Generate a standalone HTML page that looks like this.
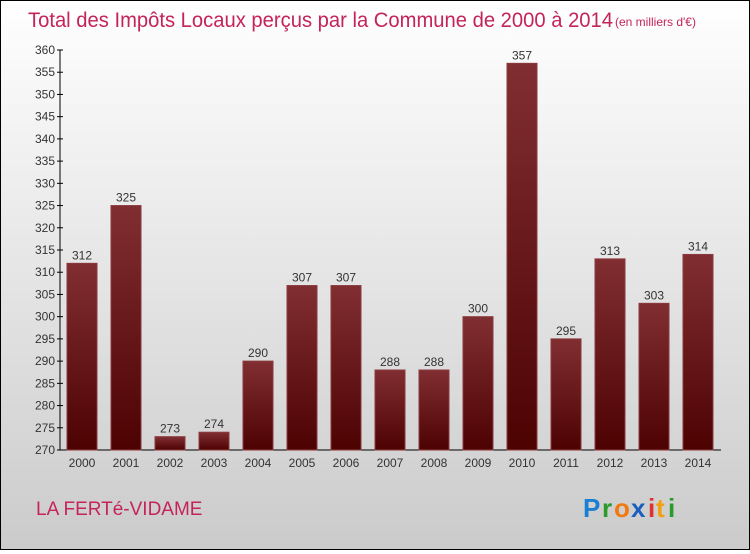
<!DOCTYPE html>
<html><head><meta charset="utf-8"><style>
html,body{margin:0;padding:0}
body{width:750px;height:550px;overflow:hidden;font-family:"Liberation Sans",sans-serif}
#wrap{position:relative;width:748px;height:548px;border:1px solid #000;background:linear-gradient(#ffffff,#cbcbcb)}
</style></head><body>
<div id="wrap">
<svg id="chart" width="748" height="548">
<defs><linearGradient id="bg" x1="0" y1="0" x2="0" y2="1"><stop offset="0" stop-color="#812e32"/><stop offset="1" stop-color="#4d0202"/></linearGradient></defs>
<text x="27" y="26" font-size="21" fill="#c4245a" font-weight="300" textLength="585" lengthAdjust="spacingAndGlyphs">Total des Impôts Locaux perçus par la Commune de 2000 à 2014</text>
<text x="614" y="25" font-size="12" fill="#c4245a">(en milliers d'€)</text>
<text x="35" y="514" font-size="19" fill="#c4245a">LA FERTé-VIDAME</text>
<g font-size="26" font-weight="bold" font-family="'Liberation Sans',sans-serif">
<text x="582" y="516" fill="#1a7fd0">P</text><text x="601" y="516" fill="#2a9a2a">r</text><text x="613" y="516" fill="#f07a10">o</text><text x="630" y="516" fill="#1a5fc0">x</text><text x="647" y="516" fill="#e03030">i</text><text x="655" y="516" fill="#f0a010">t</text><text x="667" y="516" fill="#2a9a2a">i</text>
</g>
<g id="plot"></g>
</svg>
</div>
<script>
const years=["2000","2001","2002","2003","2004","2005","2006","2007","2008","2009","2010","2011","2012","2013","2014"];
const values=[312,325,273,274,290,307,307,288,288,300,357,295,313,303,314];
const yTicks=[270,275,280,285,290,295,300,305,310,315,320,325,330,335,340,345,350,355,360];
const ns="http://www.w3.org/2000/svg";
const g=document.getElementById('plot');
const y=v=>449-(v-270)*400/90;
const x=i=>66+i*44;
function mk(t,a){const e=document.createElementNS(ns,t);for(const k in a)e.setAttribute(k,a[k]);g.appendChild(e);return e;}
let ax=mk('line',{x1:59,y1:49,x2:59,y2:449,stroke:'#000'});


let bx=mk('line',{x1:59,y1:449,x2:720,y2:449,stroke:'#000'});


yTicks.forEach(v=>{
 const tk=mk('line',{x1:56,x2:62,y1:y(v),y2:y(v),stroke:'#000'});
 
 
 const t=mk('text',{x:54,y:y(v)+4,'text-anchor':'end','font-size':12,fill:'#333'});
 t.textContent=v;
 
 
});
years.forEach((yr,i)=>{
 const r=mk('rect',{x:x(i),y:y(values[i]),width:30,height:449-y(values[i]),fill:'url(#bg)',stroke:'#8a3a3e','stroke-width':1});
 
 
 const t=mk('text',{x:x(i)+15,y:y(values[i])-4,'text-anchor':'middle','font-size':12,fill:'#333'});
 t.textContent=values[i];
 
 
 const l=mk('text',{x:x(i)+15,y:466,'text-anchor':'middle','font-size':12,fill:'#333'});
 l.textContent=yr;
 
 
});
</script>
</body></html>
